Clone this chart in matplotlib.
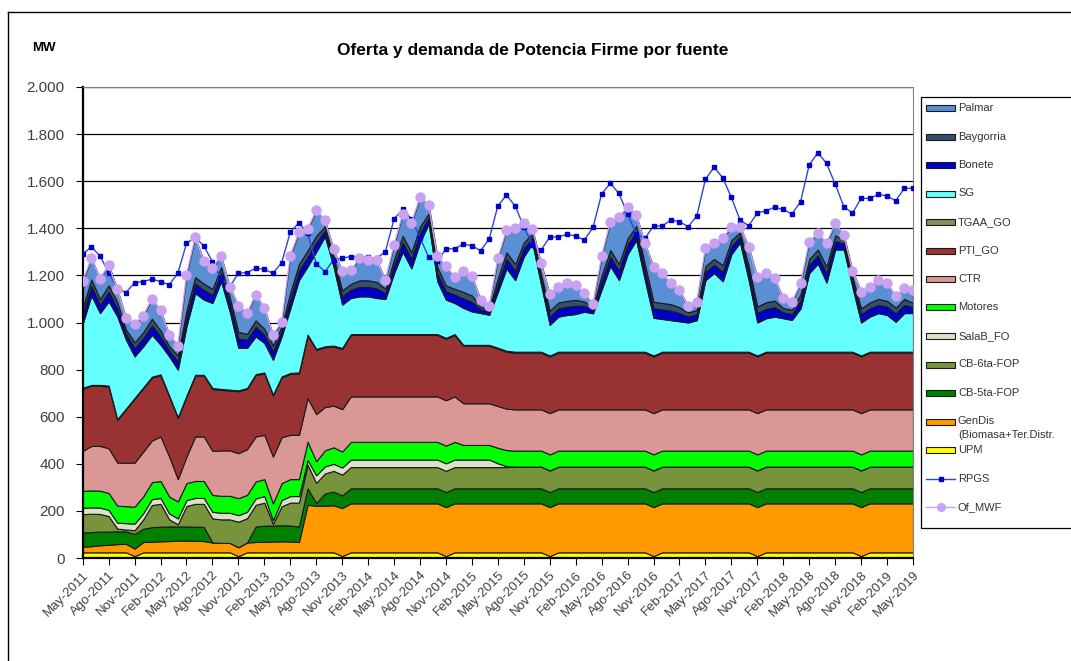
import matplotlib
matplotlib.use("Agg")
import matplotlib.pyplot as plt
from matplotlib.patches import Rectangle
from matplotlib.lines import Line2D
from matplotlib.ticker import FuncFormatter, MultipleLocator
import numpy as np

plt.rcParams['font.family'] = ['Liberation Sans', 'DejaVu Sans']

# --- meses (May-2011 .. May-2019) ---
MESES = ["Ene", "Feb", "Mar", "Abr", "May", "Jun", "Jul", "Ago", "Sep", "Oct", "Nov", "Dic"]
meses = [f"{MESES[(4 + i) % 12]}-{2011 + (4 + i) // 12}" for i in range(97)]

# --- series (MW), una fila = May..Abr ---
upm = [24, 24, 24, 24, 24, 24, 8, 24, 24, 24, 24, 24,
       24, 24, 24, 24, 24, 24, 8, 24, 24, 24, 24, 24,
       24, 24, 24, 24, 24, 24, 8, 24, 24, 24, 24, 24,
       24, 24, 24, 24, 24, 24, 8, 24, 24, 24, 24, 24,
       24, 24, 24, 24, 24, 24, 8, 24, 24, 24, 24, 24,
       24, 24, 24, 24, 24, 24, 8, 24, 24, 24, 24, 24,
       24, 24, 24, 24, 24, 24, 8, 24, 24, 24, 24, 24,
       24, 24, 24, 24, 24, 24, 8, 24, 24, 24, 24, 24,
       24]
gendis = [24, 26, 30, 32, 35, 36, 32, 44, 45, 47, 48, 50,
          50, 49, 48, 42, 40, 40, 38, 42, 44, 45, 46, 47,
          46, 44, 202, 198, 198, 200, 204, 208, 208, 208, 208, 208,
          208, 208, 208, 208, 208, 208, 208, 208, 208, 208, 208, 208,
          208, 208, 208, 208, 208, 208, 208, 208, 208, 208, 208, 208,
          208, 208, 208, 208, 208, 208, 208, 208, 208, 208, 208, 208,
          208, 208, 208, 208, 208, 208, 208, 208, 208, 208, 208, 208,
          208, 208, 208, 208, 208, 208, 208, 208, 208, 208, 208, 208,
          208]
cb5 = [60, 60, 58, 56, 54, 53, 62, 56, 62, 62, 62, 60,
       60, 60, 60, 0, 0, 0, 0, 0, 66, 68, 68, 68,
       68, 66, 70, 12, 52, 58, 54, 64, 64, 64, 64, 64,
       64, 64, 64, 64, 64, 64, 64, 64, 64, 64, 64, 64,
       64, 64, 64, 64, 64, 64, 64, 64, 64, 64, 64, 64,
       64, 64, 64, 64, 64, 64, 64, 64, 64, 64, 64, 64,
       64, 64, 64, 64, 64, 64, 64, 64, 64, 64, 64, 64,
       64, 64, 64, 64, 64, 64, 64, 64, 64, 64, 64, 64,
       64]
cb6 = [78, 78, 75, 66, 12, 8, 16, 40, 94, 97, 30, 9,
       87, 97, 98, 102, 100, 100, 108, 103, 92, 98, 7, 81,
       97, 101, 100, 85, 85, 88, 88, 90, 90, 90, 90, 90,
       90, 90, 90, 90, 90, 90, 90, 90, 90, 90, 90, 90,
       90, 90, 92, 92, 92, 92, 92, 92, 92, 92, 92, 92,
       92, 92, 92, 92, 92, 92, 92, 92, 92, 92, 92, 92,
       92, 92, 92, 92, 92, 92, 92, 92, 92, 92, 92, 92,
       92, 92, 92, 92, 92, 92, 92, 92, 92, 92, 92, 92,
       92]
salab = [27, 27, 27, 26, 25, 27, 28, 26, 25, 25, 25, 25,
         25, 25, 25, 28, 28, 28, 28, 27, 27, 28, 15, 26,
         28, 28, 20, 32, 30, 30, 30, 32, 32, 32, 32, 32,
         32, 32, 32, 32, 32, 32, 32, 32, 32, 32, 32, 32,
         16, 4, 0, 0, 0, 0, 0, 0, 0, 0, 0, 0,
         0, 0, 0, 0, 0, 0, 0, 0, 0, 0, 0, 0,
         0, 0, 0, 0, 0, 0, 0, 0, 0, 0, 0, 0,
         0, 0, 0, 0, 0, 0, 0, 0, 0, 0, 0, 0,
         0]
motores = [72, 72, 72, 72, 72, 72, 72, 72, 72, 72, 72, 72,
           72, 72, 72, 72, 72, 72, 72, 72, 72, 72, 72, 72,
           72, 72, 78, 60, 68, 70, 68, 75, 75, 75, 75, 75,
           75, 75, 75, 75, 75, 75, 75, 75, 62, 62, 62, 62,
           66, 68, 68, 68, 68, 68, 68, 68, 68, 68, 68, 68,
           68, 68, 68, 68, 68, 68, 68, 68, 68, 68, 68, 68,
           68, 68, 68, 68, 68, 68, 68, 68, 68, 68, 68, 68,
           68, 68, 68, 68, 68, 68, 68, 68, 68, 68, 68, 68,
           68]
ctr = [170, 189, 190, 190, 183, 185, 187, 190, 177, 189, 170, 95,
       113, 189, 189, 187, 193, 193, 191, 194, 191, 188, 199, 195,
       188, 188, 185, 200, 184, 177, 180, 193, 193, 193, 193, 193,
       193, 193, 193, 193, 193, 193, 193, 193, 177, 177, 177, 177,
       177, 176, 175, 175, 175, 175, 175, 175, 175, 175, 175, 175,
       175, 175, 175, 175, 175, 175, 175, 175, 175, 175, 175, 175,
       175, 175, 175, 175, 175, 175, 175, 175, 175, 175, 175, 175,
       175, 175, 175, 175, 175, 175, 175, 175, 175, 175, 175, 175,
       175]
pti = [264, 255, 255, 262, 181, 226, 271, 269, 267, 260, 255, 259,
       255, 258, 258, 263, 257, 254, 263, 256, 261, 261, 259, 254,
       259, 261, 266, 273, 254, 251, 256, 261, 261, 261, 261, 261,
       261, 261, 261, 261, 261, 261, 261, 261, 244, 244, 244, 244,
       244, 242, 241, 241, 241, 241, 241, 241, 241, 241, 241, 241,
       241, 241, 241, 241, 241, 241, 241, 241, 241, 241, 241, 241,
       241, 241, 241, 241, 241, 241, 241, 241, 241, 241, 241, 241,
       241, 241, 241, 241, 241, 241, 241, 241, 241, 241, 241, 241,
       241]
tgaa = [4] * 97
sg = [272, 380, 305, 358, 436, 292, 176, 174, 178, 126, 166, 202,
      294, 347, 319, 361, 457, 332, 180, 170, 160, 125, 148, 170,
      274, 392, 289, 412, 467, 336, 184, 153, 160, 160, 153, 149,
      259, 349, 279, 389, 469, 224, 162, 132, 157, 142, 135, 128,
      237, 350, 304, 404, 460, 284, 130, 149, 156, 160, 170, 163,
      264, 364, 304, 414, 474, 304, 160, 139, 134, 129, 124, 134,
      304, 334, 299, 414, 464, 304, 140, 142, 149, 142, 135, 184,
      334, 374, 294, 434, 434, 274, 140, 149, 164, 156, 127, 164,
      164]
bonete = [40, 40, 35, 40, 35, 25, 35, 35, 40, 35, 25, 35,
          40, 40, 40, 35, 35, 35, 40, 35, 40, 35, 35, 25,
          40, 40, 40, 40, 25, 25, 35, 35, 40, 40, 40, 25,
          35, 40, 40, 40, 25, 35, 35, 35, 40, 40, 15, 15,
          35, 40, 40, 35, 25, 25, 35, 35, 35, 35, 25, 15,
          35, 40, 40, 40, 35, 40, 40, 40, 40, 35, 25, 25,
          35, 35, 40, 35, 25, 35, 40, 40, 40, 25, 25, 35,
          35, 35, 40, 35, 25, 25, 35, 35, 35, 35, 35, 35,
          25]
baygorria = [28, 28, 25, 28, 25, 18, 25, 25, 28, 25, 18, 25,
             28, 28, 28, 25, 25, 25, 28, 25, 28, 25, 25, 18,
             28, 28, 28, 28, 18, 18, 25, 25, 28, 28, 28, 18,
             25, 28, 28, 28, 18, 25, 25, 25, 28, 28, 10, 10,
             25, 28, 28, 25, 18, 18, 25, 25, 25, 25, 18, 10,
             25, 28, 28, 28, 25, 28, 28, 28, 28, 25, 18, 18,
             25, 25, 28, 25, 18, 25, 28, 28, 28, 18, 18, 25,
             25, 25, 28, 25, 18, 18, 25, 25, 25, 25, 25, 25,
             18]
palmar = [112, 91, 86, 85, 56, 49, 79, 70, 85, 86, 49, 42,
          151, 170, 97, 88, 49, 44, 111, 88, 109, 89, 46, 17,
          156, 135, 91, 108, 25, 31, 81, 57, 95, 88, 92, 39,
          60, 93, 124, 125, 37, 46, 81, 50, 87, 84, 32, 13,
          82, 95, 155, 84, 17, 48, 71, 67, 74, 63, 35, 15,
          82, 120, 199, 134, 47, 88, 149, 126, 88, 73, 27, 35,
          78, 66, 114, 57, 24, 82, 124, 123, 95, 42, 34, 46,
          73, 69, 98, 51, 19, 27, 71, 67, 80, 74, 49, 45,
          55]
rpgs = [1290, 1322, 1282, 1212, 1146, 1127, 1169, 1174, 1184, 1174, 1160, 1209,
        1336, 1362, 1325, 1258, 1188, 1152, 1209, 1212, 1230, 1226, 1209, 1254,
        1383, 1424, 1379, 1250, 1216, 1265, 1273, 1280, 1277, 1277, 1273, 1301,
        1440, 1480, 1440, 1360, 1278, 1260, 1313, 1313, 1333, 1326, 1305, 1354,
        1495, 1541, 1495, 1407, 1329, 1308, 1362, 1364, 1374, 1367, 1350, 1404,
        1546, 1591, 1548, 1461, 1376, 1357, 1410, 1410, 1435, 1428, 1407, 1452,
        1608, 1659, 1615, 1531, 1435, 1411, 1464, 1475, 1489, 1480, 1461, 1513,
        1669, 1721, 1676, 1588, 1492, 1464, 1527, 1527, 1544, 1537, 1517, 1570,
        1570]
of_mwf = [1175, 1274, 1186, 1243, 1142, 1019, 995, 1029, 1101, 1052, 948, 902,
          1203, 1363, 1262, 1231, 1284, 1151, 1071, 1040, 1118, 1062, 948, 1001,
          1284, 1383, 1397, 1476, 1434, 1312, 1217, 1221, 1274, 1267, 1264, 1182,
          1330, 1461, 1422, 1533, 1500, 1281, 1238, 1193, 1217, 1199, 1097, 1071,
          1272, 1393, 1403, 1424, 1396, 1251, 1121, 1152, 1166, 1159, 1124, 1079,
          1282, 1428, 1447, 1492, 1457, 1336, 1237, 1209, 1166, 1138, 1070, 1088,
          1318, 1336, 1357, 1407, 1407, 1322, 1192, 1209, 1188, 1103, 1088, 1166,
          1343, 1379, 1336, 1421, 1372, 1220, 1131, 1152, 1180, 1166, 1112, 1145,
          1138]

capas = ["UPM", "GenDis", "CB-5ta-FOP", "CB-6ta-FOP", "SalaB_FO", "Motores", "CTR",
         "PTI_GO", "TGAA_GO", "SG", "Bonete", "Baygorria", "Palmar"]
valores = [upm, gendis, cb5, cb6, salab, motores, ctr, pti, tgaa, sg, bonete, baygorria, palmar]
colores = {"UPM": "#ffff00", "GenDis": "#ff9900", "CB-5ta-FOP": "#008000",
           "CB-6ta-FOP": "#77933c", "SalaB_FO": "#d9e3c8", "Motores": "#00ff00",
           "CTR": "#d99795", "PTI_GO": "#993333", "TGAA_GO": "#8b8b5b", "SG": "#66ffff",
           "Bonete": "#0000cc", "Baygorria": "#34506e", "Palmar": "#5b8fd4"}
C_RPGS = "#3344cc"
C_OF = "#c9a2f2"

W, H = 1071, 661
fig = plt.figure(figsize=(W / 100, H / 100), dpi=100)
fig.patch.set_facecolor("white")

# marco exterior (cortado a la derecha y abajo, como en el original)
fig.add_artist(Line2D([8 / W, 1.0], [1 - 12 / H, 1 - 12 / H], transform=fig.transFigure, color="black", lw=1))
fig.add_artist(Line2D([8 / W, 8 / W], [1 - 12 / H, 0.0], transform=fig.transFigure, color="black", lw=1))

ax = fig.add_axes([82.7 / W, 1 - 558 / H, (913 - 82.7) / W, (558 - 87) / H])
x = np.arange(len(meses))

ax.stackplot(x, valores, colors=[colores[c] for c in capas],
             edgecolor="#1a1a1a", linewidth=0.8, zorder=2)
ax.plot(x, rpgs, color=C_RPGS, lw=1.0, marker="s", ms=3.5,
        mfc="#0000cc", mec="#0000cc", zorder=5)
ax.plot(x, of_mwf, color=C_OF, lw=1.0, marker="o", ms=6.5,
        mfc=C_OF, mec=C_OF, zorder=6)

ax.set_xlim(0, len(meses) - 1)
ax.set_ylim(0, 2000)
ax.yaxis.set_major_locator(MultipleLocator(200))
ax.yaxis.set_major_formatter(FuncFormatter(lambda v, p: f"{int(v):,}".replace(",", ".")))
ax.yaxis.grid(True, color="black", lw=0.9)
ax.set_axisbelow(True)
ax.set_xticks(x[::3])
ax.set_xticklabels(meses[::3], rotation=45, ha="right", rotation_mode="anchor",
                   fontsize=9.5, color="#404040")
ax.tick_params(axis="y", labelsize=11, labelcolor="#404040", length=5, pad=8)
ax.tick_params(axis="x", length=5, pad=3)
for s in ("left", "bottom"):
    ax.spines[s].set_linewidth(1.6)
    ax.spines[s].set_color("black")
for s in ("top", "right"):
    ax.spines[s].set_linewidth(0.8)
    ax.spines[s].set_color("#808080")

fig.text(44 / W, 1 - 48 / H, "MW", fontsize=9.5, fontweight="bold", ha="center", va="center")
fig.text(533 / W, 1 - 50 / H, "Oferta y demanda de Potencia Firme por fuente",
         fontsize=12.5, fontweight="bold", ha="center", va="center")

# leyenda dibujada a mano (el original tiene espaciado fijo)
fig.add_artist(Rectangle((921 / W, 1 - 528 / H), 160 / W, (528 - 97) / H,
                         transform=fig.transFigure, fill=False, ec="black", lw=0.9))
orden_leyenda = ["Palmar", "Baygorria", "Bonete", "SG", "TGAA_GO", "PTI_GO", "CTR",
                 "Motores", "SalaB_FO", "CB-6ta-FOP", "CB-5ta-FOP", "GenDis", "UPM"]
y0, paso = 108, 28.5
for k, nombre in enumerate(orden_leyenda):
    yc = y0 + k * paso
    fig.add_artist(Rectangle((926 / W, 1 - (yc + 3) / H), 29 / W, 6 / H,
                             transform=fig.transFigure, fc=colores[nombre], ec="#1a1a1a", lw=0.8))
    fig.text(958 / W, 1 - yc / H, nombre, fontsize=8, color="#333333", va="center", ha="left")
    if nombre == "GenDis":
        fig.text(958 / W, 1 - (yc + 13) / H, "(Biomasa+Ter.Distr.", fontsize=8,
                 color="#333333", va="center", ha="left")
for k, (nombre, col, mk, mfc, ms) in enumerate([("RPGS", C_RPGS, "s", "#0000cc", 3.5),
                                                 ("Of_MWF", C_OF, "o", C_OF, 5.5)]):
    yc = y0 + (len(orden_leyenda) + k) * paso
    fig.add_artist(Line2D([926 / W, 955 / W], [1 - yc / H, 1 - yc / H], transform=fig.transFigure,
                          color=col, lw=1.0))
    fig.add_artist(Line2D([940.5 / W], [1 - yc / H], transform=fig.transFigure, marker=mk,
                          ms=ms, mfc=mfc, mec=mfc, lw=0))
    fig.text(958 / W, 1 - yc / H, nombre, fontsize=8, color="#333333", va="center", ha="left")

fig.savefig("out.png", dpi=100)
